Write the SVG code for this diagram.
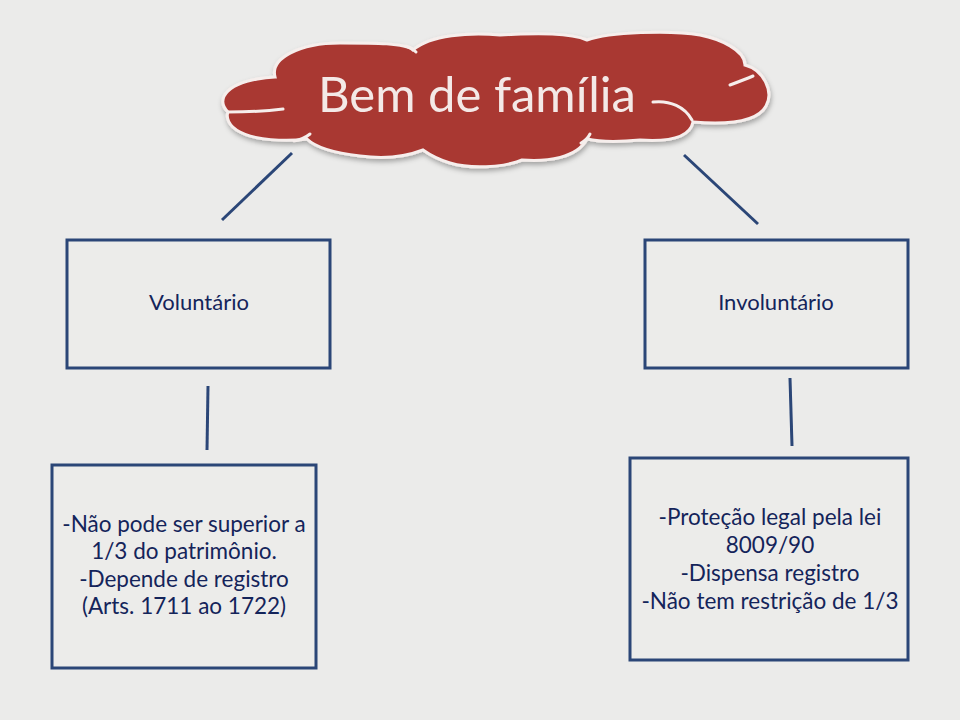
<svg xmlns="http://www.w3.org/2000/svg" width="960" height="720" viewBox="0 0 960 720">
<defs>
<style>
.box{fill:#ececea;stroke:#2b4677;stroke-width:3}
.lbl{font-family:Lato,"Open Sans",sans-serif;fill:#14245a;text-anchor:middle}
.conn line{stroke:#2b4677;stroke-width:3;stroke-linecap:butt}
.lobe{fill:none;stroke:#f6eeec;stroke-width:3;stroke-linecap:round}
</style>
<filter id="sh" x="-10%" y="-20%" width="120%" height="150%">
<feDropShadow dx="1" dy="3" stdDeviation="2.5" flood-color="#000" flood-opacity="0.3"/>
</filter>
</defs>
<rect width="960" height="720" fill="#ebebea"/>
<g id="cloud">
<path filter="url(#sh)" fill="#a93733" stroke="#f6eeec" stroke-width="3" d="M228,112 C215,100 225,80 275,77 C270,58 300,43 340,43 C375,43 405,43 413,50 C430,35 470,32 500,35 C540,33 570,33 587,40 C610,32 670,30 700,35 C720,39 745,50 745,65 C764,70 774,92 766,106 C758,121 730,125 693,122 C690,137 670,142 640,140 C620,142 600,142 587,139 C577,158 547,162 522,160 C502,168 470,169 450,163 C440,160 430,155 423,150 C400,159 375,158 360,156 C335,153 315,147 307,139 C285,142 255,140 240,132 C228,126 226,117 228,112 Z"/>
<path class="lobe" d="M228,112 C245,112 268,111 283,109"/>
<path class="lobe" d="M294,141 C300,140 305,138 310,134"/>
<path class="lobe" d="M581,143 C585,141 588,138 590,134"/>
<path class="lobe" d="M653,102 C670,100 685,107 692,120"/>
<path class="lobe" d="M730,85 C738,82 746,79 753,76"/>
<path class="lobe" d="M406,46 C410,47 413,49 416,52"/>
<text x="477" y="112" font-family="Lato,'Open Sans',sans-serif" font-size="49" fill="#f4e9e7" text-anchor="middle">Bem de família</text>
</g>
<g class="conn" id="connectors">
<line x1="292" y1="153" x2="222" y2="220"/>
<line x1="684" y1="155" x2="758" y2="224"/>
<line x1="208" y1="386" x2="207" y2="450"/>
<line x1="790" y1="378" x2="792" y2="446"/>
</g>
<g id="voluntario">
<rect class="box" x="67" y="240" width="263" height="128"/>
<text class="lbl" x="199" y="310" font-size="22">Voluntário</text>
</g>
<g id="involuntario">
<rect class="box" x="645" y="240" width="263" height="128"/>
<text class="lbl" x="776" y="310" font-size="22">Involuntário</text>
</g>
<g id="voluntario-detalhe">
<rect class="box" x="52" y="465" width="264" height="203"/>
<text class="lbl" font-size="22.5"><tspan x="184" y="532">-Não pode ser superior a</tspan><tspan x="184" y="559">1/3 do patrimônio.</tspan><tspan x="184" y="587">-Depende de registro</tspan><tspan x="184" y="614">(Arts. 1711 ao 1722)</tspan></text>
</g>
<g id="involuntario-detalhe">
<rect class="box" x="630" y="458" width="278" height="202"/>
<text class="lbl" font-size="22.5"><tspan x="770" y="525">-Proteção legal pela lei</tspan><tspan x="770" y="553">8009/90</tspan><tspan x="770" y="581">-Dispensa registro</tspan><tspan x="770" y="609">-Não tem restrição de 1/3</tspan></text>
</g>
</svg>
